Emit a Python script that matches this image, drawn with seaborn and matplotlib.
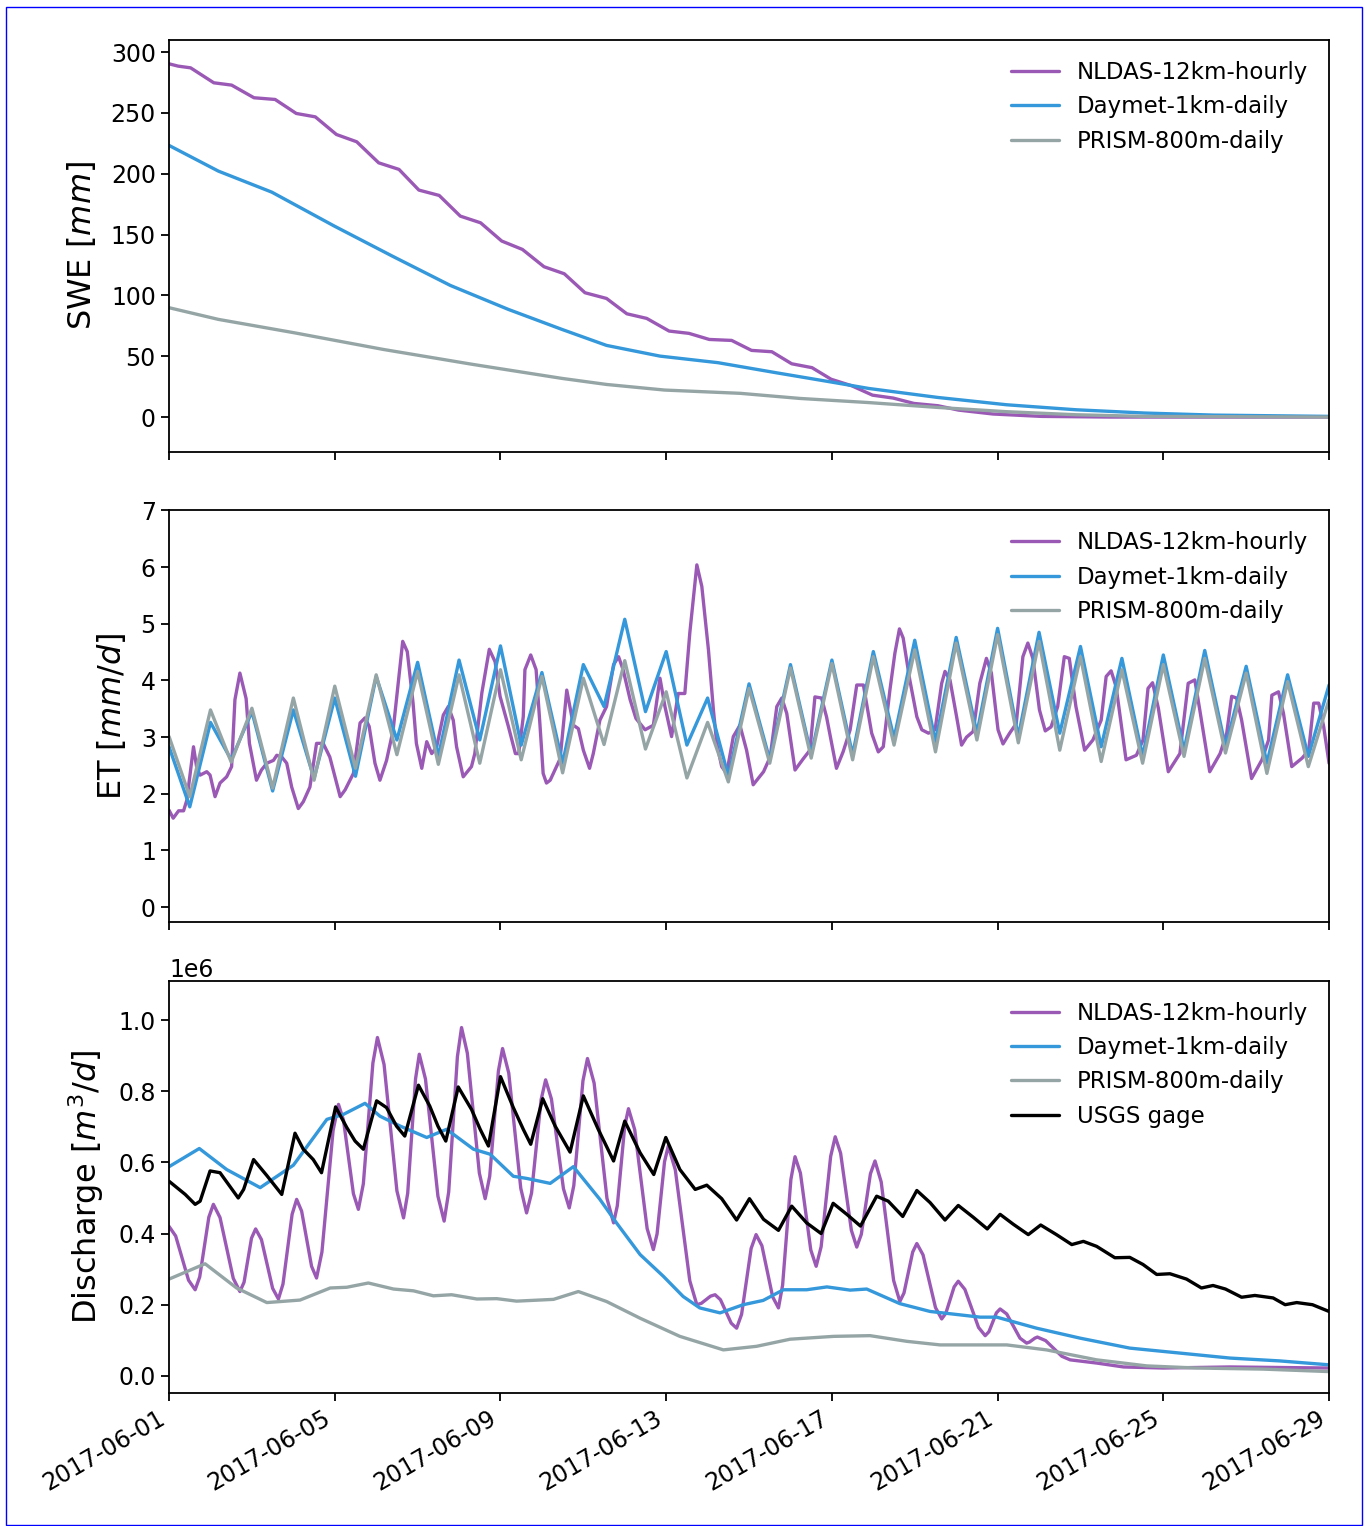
import numpy as np
import pandas as pd
import matplotlib
matplotlib.use("Agg")
import matplotlib.pyplot as plt
import matplotlib.dates as mdates
import seaborn as sns

sns.set_style("ticks", {"axes.edgecolor": "black", "xtick.color": "black",
                        "ytick.color": "black", "text.color": "black",
                        "axes.labelcolor": "black"})
plt.rcParams["font.family"] = ["DejaVu Sans"]

start = pd.Timestamp("2017-06-01")
colors = {"NLDAS-12km-hourly": "#9b59b6", "Daymet-1km-daily": "#3498db",
          "PRISM-800m-daily": "#95a5a6", "USGS gage": "black"}

# ---- SWE [mm], time in days since 2017-06-01 ----
swe_nldas_day = [0, 0.22, 0.52, 1.08, 1.51, 2.05, 2.56, 3.07, 3.53, 4.04, 4.53, 5.06, 5.55,
                 6.03, 6.52, 7.03, 7.52, 8.03, 8.53, 9.05, 9.54, 10.04, 10.56, 11.05, 11.53,
                 12.07, 12.55, 13.04, 13.58, 14.06, 14.55, 15.03, 15.52, 15.98, 16.48, 16.98,
                 17.48, 17.98, 18.56, 19.06, 19.89, 21.05, 22.7, 28.0]
swe_nldas = [290.4, 288.5, 287.1, 274.8, 272.9, 262.5, 261.1, 249.6, 246.8, 232.3, 226.3,
             209.0, 203.6, 186.6, 182.2, 165.2, 159.7, 144.7, 137.8, 123.6, 117.8, 102.2,
             97.5, 84.9, 81.1, 70.7, 68.8, 63.8, 63.0, 54.8, 53.7, 43.8, 40.6, 31.1, 25.7,
             18.0, 15.6, 11.2, 9.3, 5.7, 2.5, 0.55, 0.0, 0.0]
swe_daymet_day = [0, 1.19, 2.48, 3.99, 5.39, 6.79, 8.19, 9.48, 10.56, 11.85, 13.25, 14.66,
                  15.95, 16.89, 18.56, 20.22, 21.89, 23.55, 25.22, 28.0]
swe_daymet = [223.3, 202.2, 184.9, 157.0, 132.3, 108.2, 88.5, 72.1, 58.9, 50.1, 44.7, 36.4,
              29.0, 23.5, 16.1, 10.1, 6.0, 3.3, 1.6, 0.55]
swe_prism_day = [0, 1.19, 3.02, 5.17, 7.33, 9.48, 10.56, 11.96, 13.79, 15.23, 16.89, 18.56,
                 20.22, 21.89, 23.55, 28.0]
swe_prism = [89.9, 80.3, 69.3, 55.6, 43.3, 31.8, 26.8, 22.2, 19.5, 15.3, 11.9, 7.9, 4.4,
             1.9, 0.55, 0.0]

# ---- ET [mm/d] ----
et_nldas_day = [0.0, 0.1, 0.23, 0.35, 0.43, 0.59, 0.67, 0.75, 0.91, 0.99, 1.11, 1.23, 1.39,
                1.51, 1.59, 1.71, 1.86, 1.94, 2.11, 2.23, 2.36, 2.52, 2.6, 2.72, 2.84, 2.96,
                3.12, 3.24, 3.4, 3.56, 3.72, 3.88, 4.13, 4.25, 4.45, 4.61, 4.73, 4.83, 4.97,
                5.09, 5.25, 5.41, 5.53, 5.64, 5.75, 5.89, 5.97, 6.1, 6.22, 6.34, 6.46, 6.62,
                6.74, 6.86, 6.94, 7.1, 7.3, 7.38, 7.55, 7.73, 7.87, 7.99, 8.19, 8.36, 8.44,
                8.55, 8.59, 8.73, 8.86, 8.95, 9.03, 9.11, 9.2, 9.44, 9.6, 9.76, 9.88, 10.0,
                10.15, 10.24, 10.4, 10.56, 10.73, 10.85, 10.96, 11.13, 11.27, 11.49, 11.69,
                11.85, 11.97, 12.13, 12.29, 12.45, 12.57, 12.74, 12.86, 13.02, 13.14, 13.22,
                13.34, 13.46, 13.62, 13.78, 13.94, 14.1, 14.35, 14.51, 14.67, 14.79, 14.91,
                15.11, 15.31, 15.47, 15.59, 15.75, 15.87, 16.11, 16.27, 16.44, 16.6, 16.76,
                16.96, 17.12, 17.24, 17.4, 17.52, 17.63, 17.72, 17.88, 18.05, 18.17, 18.33,
                18.49, 18.65, 18.73, 18.85, 19.01, 19.13, 19.25, 19.41, 19.57, 19.73, 19.85,
                20.01, 20.13, 20.29, 20.45, 20.61, 20.73, 20.85, 21.01, 21.15, 21.29, 21.45,
                21.61, 21.73, 21.89, 22.1, 22.3, 22.5, 22.62, 22.74, 22.86, 23.1, 23.35,
                23.51, 23.63, 23.74, 23.88, 24.12, 24.4, 24.6, 24.76, 24.88, 25.12, 25.37,
                25.53, 25.65, 25.77, 25.89, 26.13, 26.38, 26.54, 26.62, 26.78, 26.9, 27.1,
                27.35, 27.51, 27.63, 27.75, 27.87, 28.0]
et_nldas = [1.71, 1.57, 1.70, 1.70, 1.89, 2.83, 2.45, 2.33, 2.39, 2.33, 1.95, 2.19, 2.30,
            2.48, 3.66, 4.13, 3.68, 2.89, 2.24, 2.42, 2.54, 2.59, 2.68, 2.65, 2.54, 2.12,
            1.74, 1.86, 2.12, 2.89, 2.89, 2.65, 1.95, 2.07, 2.36, 3.25, 3.34, 3.19, 2.54,
            2.24, 2.59, 3.13, 3.95, 4.69, 4.51, 3.60, 2.89, 2.45, 2.92, 2.71, 2.83, 3.39,
            3.54, 3.30, 2.83, 2.30, 2.48, 2.71, 3.78, 4.55, 4.33, 3.72, 3.19, 2.71, 2.71,
            3.36, 4.19, 4.45, 4.19, 3.25, 2.36, 2.19, 2.24, 2.62, 3.83, 3.21, 3.15, 2.77,
            2.45, 2.71, 3.30, 3.54, 4.28, 4.42, 4.19, 3.66, 3.33, 3.13, 3.21, 4.04, 3.54,
            3.01, 3.77, 3.77, 4.84, 6.04, 5.66, 4.54, 3.48, 2.89, 2.48, 2.36, 3.01, 3.21,
            2.77, 2.16, 2.39, 2.65, 3.54, 3.69, 3.42, 2.42, 2.62, 2.77, 3.71, 3.69, 3.36,
            2.45, 2.74, 3.13, 3.92, 3.92, 3.07, 2.74, 2.83, 3.83, 4.48, 4.91, 4.75, 4.01,
            3.36, 3.13, 3.07, 3.13, 3.95, 4.16, 4.01, 3.36, 2.86, 3.00, 3.10, 3.95, 4.39,
            4.13, 3.13, 2.88, 3.07, 3.24, 4.42, 4.66, 4.39, 3.48, 3.11, 3.18, 3.54, 4.42,
            4.39, 3.54, 2.77, 2.95, 3.30, 4.07, 4.17, 3.89, 2.60, 2.68, 2.95, 3.86, 3.96,
            3.51, 2.39, 2.71, 3.95, 4.01, 3.48, 2.39, 2.71, 3.07, 3.72, 3.69, 3.30, 2.27,
            2.60, 2.95, 3.74, 3.80, 3.42, 2.48, 2.63, 2.77, 3.60, 3.60, 3.19, 2.54]
# daily products, one value every 12 hours from 06-01 00:00 to 06-29 00:00
et_daily_day = np.arange(57) * 0.5
et_daymet = [2.83, 1.77, 3.26, 2.60, 3.45, 2.05, 3.48, 2.27, 3.69, 2.31, 4.07, 2.95, 4.32,
             2.66, 4.36, 2.95, 4.61, 2.86, 4.14, 2.54, 4.28, 3.54, 5.08, 3.45, 4.51, 2.86,
             3.69, 2.31, 3.94, 2.60, 4.28, 2.69, 4.36, 2.69, 4.51, 2.98, 4.71, 2.92, 4.76,
             3.07, 4.92, 3.01, 4.85, 3.07, 4.60, 2.83, 4.39, 2.66, 4.45, 2.77, 4.53, 2.83,
             4.25, 2.54, 4.10, 2.66, 3.92]
et_prism = [3.01, 1.95, 3.48, 2.56, 3.51, 2.10, 3.69, 2.24, 3.90, 2.45, 4.10, 2.69, 4.16,
            2.52, 4.10, 2.54, 4.19, 2.60, 4.07, 2.37, 4.04, 2.87, 4.35, 2.79, 3.80, 2.28,
            3.26, 2.21, 3.86, 2.54, 4.22, 2.63, 4.30, 2.60, 4.42, 2.86, 4.54, 2.74, 4.66,
            2.95, 4.81, 2.90, 4.69, 2.77, 4.42, 2.57, 4.19, 2.54, 4.28, 2.66, 4.39, 2.72,
            4.13, 2.36, 3.98, 2.48, 3.66]

# ---- Discharge [1e6 m3/d] ----
q_nldas_day = [0.0, 0.16, 0.47, 0.63, 0.74, 0.96, 1.07, 1.23, 1.55, 1.71, 1.81, 1.99, 2.09,
               2.23, 2.5, 2.64, 2.75, 2.97, 3.08, 3.2, 3.44, 3.56, 3.69, 3.96, 4.09, 4.21,
               4.45, 4.57, 4.69, 4.92, 5.03, 5.19, 5.5, 5.66, 5.76, 5.95, 6.04, 6.19, 6.49,
               6.64, 6.75, 6.96, 7.06, 7.2, 7.49, 7.63, 7.74, 7.95, 8.05, 8.2, 8.49, 8.63,
               8.75, 8.98, 9.09, 9.23, 9.52, 9.66, 9.77, 9.99, 10.1, 10.26, 10.57, 10.73,
               10.82, 11.0, 11.09, 11.24, 11.54, 11.69, 11.78, 11.96, 12.05, 12.22, 12.57,
               12.74, 12.85, 13.07, 13.18, 13.31, 13.57, 13.7, 13.82, 14.05, 14.17, 14.31,
               14.57, 14.71, 14.81, 15.01, 15.11, 15.24, 15.49, 15.62, 15.74, 15.97, 16.08,
               16.21, 16.47, 16.6, 16.71, 16.93, 17.04, 17.19, 17.49, 17.64, 17.74, 17.95,
               18.05, 18.2, 18.5, 18.65, 18.75, 18.95, 19.05, 19.21, 19.54, 19.7, 19.79,
               19.97, 20.06, 20.22, 20.54, 20.7, 20.77, 20.9, 20.96, 21.16, 21.55, 21.75,
               22.39, 23.04, 24.0, 25.6, 28.0]
q_nldas = [0.420, 0.393, 0.269, 0.242, 0.278, 0.446, 0.482, 0.445, 0.274, 0.237, 0.263, 0.387,
           0.413, 0.383, 0.246, 0.216, 0.258, 0.454, 0.496, 0.463, 0.308, 0.275, 0.348, 0.690,
           0.763, 0.719, 0.512, 0.468, 0.540, 0.879, 0.951, 0.875, 0.520, 0.444, 0.513, 0.835,
           0.904, 0.834, 0.505, 0.435, 0.517, 0.897, 0.979, 0.907, 0.570, 0.498, 0.561, 0.857,
           0.920, 0.851, 0.527, 0.458, 0.514, 0.776, 0.832, 0.778, 0.526, 0.472, 0.535, 0.829,
           0.892, 0.823, 0.499, 0.430, 0.478, 0.703, 0.751, 0.692, 0.414, 0.355, 0.399, 0.602,
           0.646, 0.579, 0.267, 0.200, 0.204, 0.224, 0.228, 0.214, 0.148, 0.134, 0.173, 0.358,
           0.397, 0.366, 0.222, 0.191, 0.255, 0.552, 0.616, 0.570, 0.354, 0.308, 0.363, 0.617,
           0.672, 0.626, 0.409, 0.362, 0.398, 0.568, 0.604, 0.545, 0.268, 0.209, 0.233, 0.348,
           0.372, 0.340, 0.192, 0.160, 0.176, 0.250, 0.266, 0.243, 0.136, 0.113, 0.124, 0.177,
           0.188, 0.174, 0.106, 0.092, 0.095, 0.106, 0.109, 0.099, 0.055, 0.045, 0.036, 0.025,
           0.022, 0.025, 0.022]
q_daymet_day = [0, 0.73, 1.39, 2.2, 3.0, 3.81, 4.21, 4.73, 5.09, 5.58, 6.22, 6.7, 7.35, 7.75,
                8.31, 8.63, 9.2, 9.76, 10.4, 10.8, 11.37, 11.93, 12.41, 12.81, 13.3, 13.86,
                14.34, 14.83, 15.39, 15.88, 16.44, 16.84, 17.64, 18.37, 19.58, 19.98, 20.94,
                21.99, 23.19, 24.4, 25.61, 26.81, 28.0]
q_daymet = [0.588, 0.639, 0.580, 0.529, 0.592, 0.721, 0.735, 0.766, 0.730, 0.702, 0.670,
            0.693, 0.637, 0.623, 0.561, 0.555, 0.541, 0.588, 0.496, 0.430, 0.341, 0.280,
            0.223, 0.191, 0.177, 0.200, 0.212, 0.242, 0.242, 0.250, 0.241, 0.244, 0.203,
            0.181, 0.165, 0.165, 0.134, 0.106, 0.078, 0.064, 0.050, 0.042, 0.031]
q_prism_day = [0, 0.87, 1.63, 2.36, 3.16, 3.89, 4.29, 4.81, 5.42, 5.9, 6.38, 6.82, 7.43, 7.91,
               8.39, 9.28, 9.88, 10.56, 11.37, 12.33, 13.38, 14.18, 14.99, 16.04, 16.92,
               17.81, 18.61, 19.17, 20.22, 21.18, 22.39, 23.6, 24.8, 26.4, 28.0]
q_prism = [0.272, 0.315, 0.247, 0.206, 0.213, 0.247, 0.249, 0.261, 0.244, 0.239, 0.225,
           0.228, 0.216, 0.217, 0.210, 0.215, 0.237, 0.209, 0.162, 0.111, 0.073, 0.083,
           0.103, 0.111, 0.113, 0.097, 0.087, 0.087, 0.087, 0.073, 0.045, 0.028, 0.022,
           0.019, 0.012]
q_usgs_day = [0.0, 0.39, 0.63, 0.75, 0.99, 1.23, 1.67, 1.8, 2.04, 2.36, 2.72, 3.04, 3.24, 3.48,
              3.68, 4.02, 4.29, 4.49, 4.69, 5.01, 5.25, 5.49, 5.69, 6.02, 6.29, 6.49, 6.68,
              6.98, 7.3, 7.51, 7.71, 8.0, 8.31, 8.55, 8.73, 9.02, 9.32, 9.68, 10.0, 10.36,
              10.73, 11.0, 11.37, 11.7, 11.99, 12.33, 12.7, 12.98, 13.34, 13.7, 14.01, 14.35,
              14.71, 15.03, 15.39, 15.74, 16.03, 16.36, 16.69, 17.08, 17.36, 17.71, 18.05,
              18.37, 18.73, 19.05, 19.41, 19.75, 20.06, 20.38, 20.74, 21.04, 21.42, 21.79,
              22.07, 22.39, 22.83, 23.19, 23.51, 23.84, 24.16, 24.56, 24.92, 25.2, 25.5,
              25.89, 26.21, 26.65, 26.94, 27.22, 27.6, 28.0]
q_usgs = [0.547, 0.510, 0.482, 0.491, 0.576, 0.571, 0.500, 0.524, 0.608, 0.563, 0.510, 0.682,
          0.637, 0.608, 0.571, 0.756, 0.698, 0.660, 0.637, 0.773, 0.754, 0.702, 0.674, 0.817,
          0.759, 0.702, 0.660, 0.812, 0.749, 0.693, 0.646, 0.841, 0.754, 0.693, 0.651, 0.779,
          0.702, 0.629, 0.787, 0.693, 0.604, 0.716, 0.627, 0.566, 0.670, 0.580, 0.524, 0.536,
          0.498, 0.438, 0.498, 0.440, 0.409, 0.477, 0.430, 0.400, 0.485, 0.454, 0.421, 0.505,
          0.491, 0.448, 0.521, 0.487, 0.438, 0.479, 0.446, 0.413, 0.454, 0.426, 0.397, 0.424,
          0.397, 0.369, 0.378, 0.364, 0.332, 0.333, 0.313, 0.285, 0.287, 0.272, 0.247, 0.254,
          0.244, 0.221, 0.226, 0.219, 0.200, 0.206, 0.200, 0.181]
q_scale = 1e6


def to_time(days):
    return start + pd.to_timedelta(np.asarray(days, dtype=float), unit="D")


panels = [
    ("SWE [$mm$]", (-28.7, 310), [
        ("NLDAS-12km-hourly", swe_nldas_day, swe_nldas, 1),
        ("Daymet-1km-daily", swe_daymet_day, swe_daymet, 1),
        ("PRISM-800m-daily", swe_prism_day, swe_prism, 1)]),
    ("ET [$mm/d$]", (-0.27, 7.0), [
        ("NLDAS-12km-hourly", et_nldas_day, et_nldas, 1),
        ("Daymet-1km-daily", et_daily_day, et_daymet, 1),
        ("PRISM-800m-daily", et_daily_day, et_prism, 1)]),
    ("Discharge [$m^3/d$]", (-0.048e6, 1.11e6), [
        ("NLDAS-12km-hourly", q_nldas_day, q_nldas, q_scale),
        ("Daymet-1km-daily", q_daymet_day, q_daymet, q_scale),
        ("PRISM-800m-daily", q_prism_day, q_prism, q_scale),
        ("USGS gage", q_usgs_day, q_usgs, q_scale)]),
]

fig, axes = plt.subplots(3, 1, figsize=(13.7, 15.26), dpi=100, sharex=True)
fig.subplots_adjust(left=0.1234, right=0.9701, top=0.9738, bottom=0.0872, hspace=0.142)

for ax, (ylabel, ylim, series) in zip(axes, panels):
    for name, days, vals, scale in series:
        df = pd.DataFrame({"time": to_time(days), "value": np.asarray(vals) * scale})
        sns.lineplot(data=df, x="time", y="value", color=colors[name], label=name,
                     linewidth=2.4, estimator=None, ax=ax)
    ax.set_ylim(*ylim)
    ax.set_ylabel(ylabel, fontsize=23, labelpad=9)
    ax.set_xlabel("")
    ax.legend(loc="upper right", frameon=False, fontsize=16.5, labelspacing=0.5,
              handlelength=2.1)
    ax.tick_params(labelsize=17, length=6, width=1.3)
    ax.yaxis.get_offset_text().set_fontsize(17)
    for sp in ax.spines.values():
        sp.set_linewidth(1.3)

ax = axes[-1]
ax.set_xlim(start, start + pd.Timedelta(days=28))
ax.xaxis.set_major_locator(mdates.DayLocator(bymonthday=[1, 5, 9, 13, 17, 21, 25, 29]))
ax.xaxis.set_major_formatter(mdates.DateFormatter("%Y-%m-%d"))
plt.setp(ax.get_xticklabels(), rotation=30, ha="right")

fig.add_artist(plt.Rectangle((0.0047, 0.0007), 0.9895, 0.9947, transform=fig.transFigure,
                             fill=False, edgecolor="blue", linewidth=1.0))

fig.savefig("out.png", dpi=100)
